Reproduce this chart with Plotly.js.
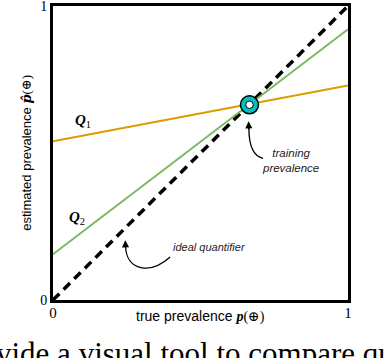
<!DOCTYPE html>
<html><head><meta charset="utf-8">
<script src="https://cdn.plot.ly/plotly-3.0.1.min.js"></script>
<style>html,body{margin:0;padding:0;background:#fff;}</style>
</head><body>
<div id="chart" style="width:386px;height:358px;"></div>
<script>
// data
const xEnds = [0, 1];
const idealY = [0, 1];
const q1Y = [0.54, 0.73];
const q2Y = [0.156, 0.921];
const trainX = [0.666];
const trainY = [0.664];
const tickVals = [0, 1];
const tickText = ['0', '1'];

const serif = 'Liberation Serif, DejaVu Serif, serif';
const sans = 'Liberation Sans, Arial, sans-serif';

const traces = [
  {x: xEnds, y: q1Y, mode: 'lines', line: {color: '#DD9B00', width: 2}, hoverinfo: 'skip'},
  {x: xEnds, y: idealY, mode: 'lines', line: {color: '#000', width: 3.5, dash: '9px,6px'}, hoverinfo: 'skip'},
  {x: xEnds, y: q2Y, mode: 'lines', line: {color: '#7DB863', width: 2}, hoverinfo: 'skip'},
  {x: trainX, y: trainY, mode: 'markers', marker: {size: 18, color: '#00C2C4', line: {color: '#000', width: 1.5}}, hoverinfo: 'skip'},
  {x: trainX, y: trainY, mode: 'markers', marker: {size: 7.5, color: '#fff', line: {color: '#000', width: 1}}, hoverinfo: 'skip'}
];

const layout = {
  width: 386, height: 358,
  margin: {l: 53, r: 38, t: 6, b: 58},
  showlegend: false,
  paper_bgcolor: '#fff', plot_bgcolor: '#fff',
  xaxis: {range: [0, 1], tickvals: tickVals, ticktext: tickText, showgrid: false, zeroline: false,
          showline: true, mirror: true, linecolor: '#000', linewidth: 3, ticks: '',
          ticklabeloverflow: 'allow', ticklabelstandoff: -3,
          tickfont: {family: serif, size: 15, color: '#000'}, fixedrange: true},
  yaxis: {range: [0, 1], tickvals: tickVals, ticktext: tickText, showgrid: false, zeroline: false,
          showline: true, mirror: true, linecolor: '#000', linewidth: 3, ticks: '',
          ticklabeloverflow: 'allow',
          tickfont: {family: serif, size: 14, color: '#000'}, fixedrange: true},
  shapes: [
    {type: 'path', xref: 'x', yref: 'y', path: 'M 0.712,0.482 C 0.675,0.49 0.664,0.53 0.664,0.585', line: {color: '#000', width: 1.3}},
    {type: 'path', xref: 'x', yref: 'y', path: 'M 0.397,0.146 C 0.33,0.085 0.25,0.10 0.246,0.18', line: {color: '#000', width: 1.3}}
  ],
  annotations: [
    {xref: 'paper', yref: 'paper', x: 0.5, y: -0.022, xanchor: 'center', yanchor: 'top', showarrow: false,
     text: '<span style="font-family:Liberation Sans">true prevalence </span><b><i>p</i></b>(⊕)',
     font: {family: serif, size: 14, color: '#000'}},
    {xref: 'paper', yref: 'paper', x: -0.06, y: 0.5, xanchor: 'right', yanchor: 'middle', textangle: -90, showarrow: false,
     text: '<span style="font-family:Liberation Sans">estimated prevalence </span><b><i><span style="font-family:DejaVu Serif">p̂</span></i></b>(⊕)',
     font: {family: serif, size: 13, color: '#000'}},
    {xref: 'x', yref: 'y', x: 0.1, y: 0.61, showarrow: false, text: '<b><i>Q</i></b><sub>1</sub>',
     font: {family: serif, size: 15, color: '#000'}},
    {xref: 'x', yref: 'y', x: 0.08, y: 0.28, showarrow: false, text: '<b><i>Q</i></b><sub>2</sub>',
     font: {family: serif, size: 15, color: '#000'}},
    {xref: 'x', yref: 'y', x: 0.805, y: 0.475, showarrow: false, text: '<i>training<br>prevalence</i>', align: 'center',
     font: {family: sans, size: 11.5, color: '#222'}},
    {xref: 'x', yref: 'y', x: 0.53, y: 0.18, showarrow: false, text: '<i>ideal quantifier</i>',
     font: {family: sans, size: 11, color: '#222'}},
    {xref: 'x', yref: 'y', axref: 'x', ayref: 'y', x: 0.663, y: 0.608, ax: 0.664, ay: 0.575, text: '', showarrow: true,
     arrowhead: 2, arrowsize: 1.1, arrowwidth: 1.3, arrowcolor: '#000', standoff: 0},
    {xref: 'x', yref: 'y', axref: 'x', ayref: 'y', x: 0.245, y: 0.203, ax: 0.246, ay: 0.172, text: '', showarrow: true,
     arrowhead: 2, arrowsize: 1.1, arrowwidth: 1.3, arrowcolor: '#000', standoff: 0},
    {xref: 'paper', yref: 'paper', x: 0.482, y: -0.115, xanchor: 'center', yanchor: 'top', showarrow: false,
     text: 'vide a visual tool to compare qu', font: {family: serif, size: 31, color: '#000'}}
  ]
};

Plotly.newPlot('chart', traces, layout, {displayModeBar: false, staticPlot: true});
</script>
</body></html>
